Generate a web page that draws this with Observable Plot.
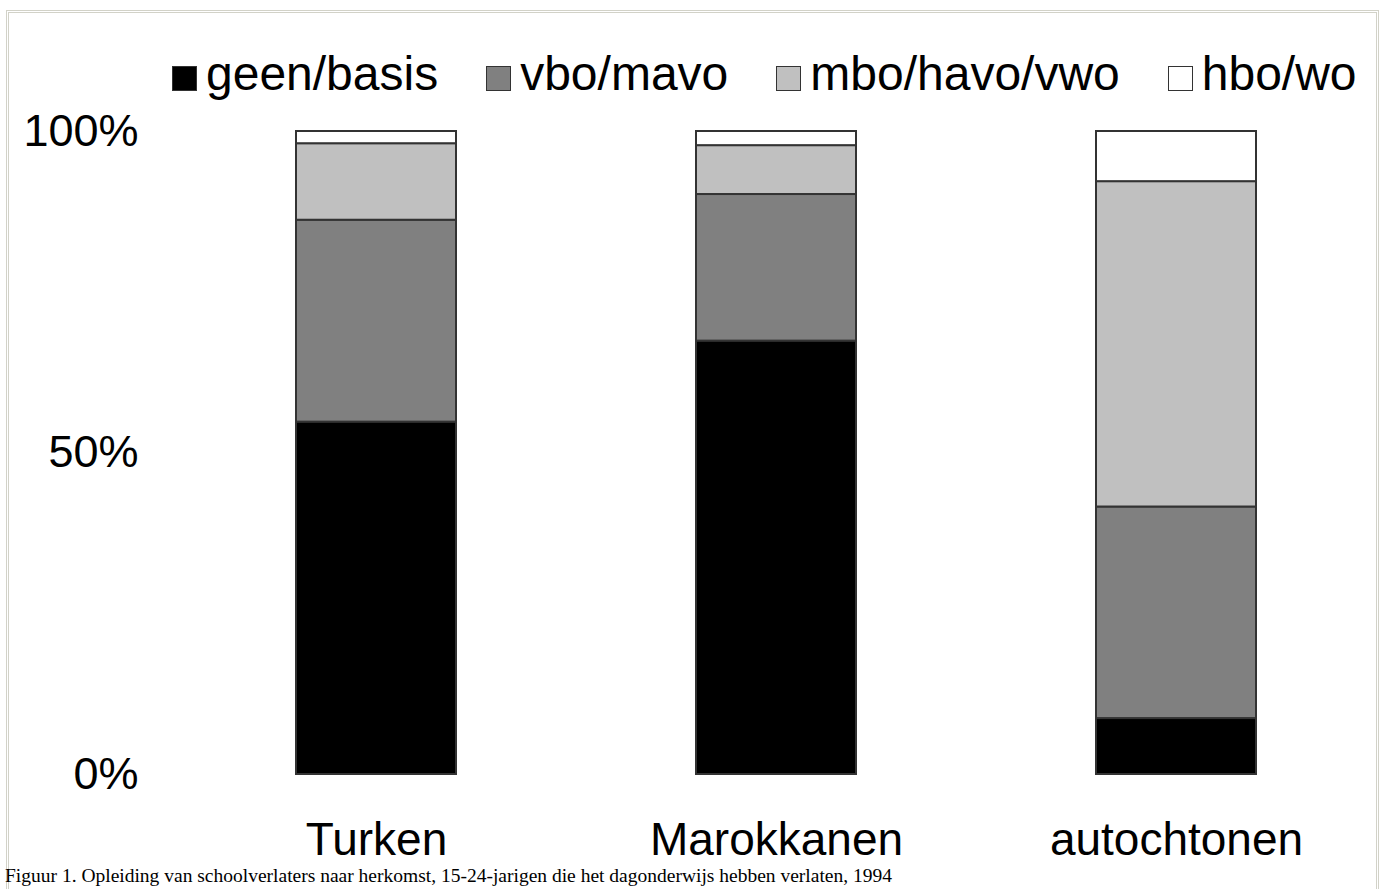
<!DOCTYPE html>
<html>
<head>
<meta charset="utf-8">
<script src="https://cdn.jsdelivr.net/npm/d3@7"></script>
<script src="https://cdn.jsdelivr.net/npm/@observablehq/plot@0.6"></script>
<style>
  html, body { margin: 0; padding: 0; background: #fff; }
  #wrap { position: relative; width: 1390px; height: 889px; overflow: hidden; font-family: "Liberation Sans", Arial, sans-serif; }
  #frame { position: absolute; left: 6px; top: 10px; width: 1373px; height: 900px; border: 3px double #d2d2c8; box-sizing: border-box; }
  #legend { position: absolute; left: 172px; top: 46px; display: flex; gap: 48px; font-size: 48px; line-height: 56px; color: #000; }
  #legend .item { display: flex; align-items: center; }
  #legend .sw { width: 23px; height: 23px; border: 1px solid #333; margin-right: 9px; margin-top: 8px; }
  #chart { position: absolute; left: 0; top: 100px; }
  #caption { position: absolute; left: 5px; top: 865px; font-family: "Liberation Serif", "Times New Roman", serif; font-size: 19.5px; line-height: 22px; color: #000; white-space: nowrap; }
</style>
</head>
<body>
<div id="wrap">
  <div id="frame"></div>
  <div id="legend"></div>
  <div id="chart"></div>
  <div id="caption"></div>
</div>
<script>
// Categories and series (shares)
const groups = ["Turken", "Marokkanen", "autochtonen"];
const levels = ["geen/basis", "vbo/mavo", "mbo/havo/vwo", "hbo/wo"];
const levelColors = ["#000000", "#808080", "#c0c0c0", "#ffffff"];
const geenBasis = [0.548, 0.674, 0.087];
const vboMavo   = [0.314, 0.228, 0.329];
const mboHavoVwo = [0.119, 0.076, 0.506];
const hboWo     = [0.019, 0.022, 0.078];
const yTicks = [0, 0.5, 1];
const captionText = "Figuur 1. Opleiding van schoolverlaters naar herkomst, 15-24-jarigen die het dagonderwijs hebben verlaten, 1994";

const series = [geenBasis, vboMavo, mboHavoVwo, hboWo];
const data = [];
groups.forEach((g, i) => {
  levels.forEach((l, j) => data.push({group: g, level: l, value: series[j][i]}));
});

// Legend
const legend = document.getElementById("legend");
levels.forEach((l, j) => {
  const item = document.createElement("div");
  item.className = "item";
  const sw = document.createElement("span");
  sw.className = "sw";
  sw.style.background = levelColors[j];
  const tx = document.createElement("span");
  tx.textContent = l;
  item.appendChild(sw);
  item.appendChild(tx);
  legend.appendChild(item);
});

const chart = Plot.plot({
  width: 1390,
  height: 789,
  marginLeft: 176,
  marginRight: 14,
  marginTop: 31,
  marginBottom: 115,
  style: {fontFamily: "'Liberation Sans', Arial, sans-serif", color: "#000", background: "transparent", overflow: "visible"},
  x: {domain: groups, paddingInner: 0.6, paddingOuter: 0.3},
  y: {domain: [0, 1]},
  color: {domain: levels, range: levelColors},
  marks: [
    Plot.barY(data, {x: "group", y: "value", fill: "level", stroke: "#333", strokeWidth: 2, order: levels}),
    Plot.axisX({tickSize: 0, tickPadding: 48, fontSize: 46, label: null}),
    Plot.axisY({ticks: yTicks, tickFormat: d3.format(".0%"), tickSize: 0, tickPadding: 38, fontSize: 45, label: null})
  ]
});
document.getElementById("chart").appendChild(chart);
document.getElementById("caption").textContent = captionText;
</script>
</body>
</html>
